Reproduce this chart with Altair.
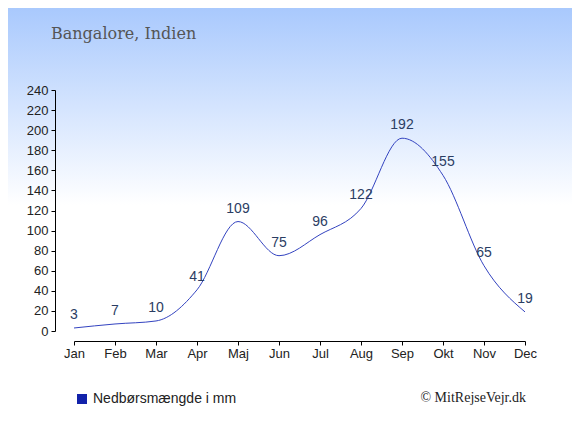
import altair as alt
import pandas as pd

months = ["Jan", "Feb", "Mar", "Apr", "Maj", "Jun", "Jul", "Aug", "Sep", "Okt", "Nov", "Dec"]
rain = [3, 7, 10, 41, 109, 75, 96, 122, 192, 155, 65, 19]
y_ticks = list(range(0, 241, 20))
title_text = "Bangalore, Indien"
legend_text = "Nedbørsmængde i mm"
credit_text = "© MitRejseVejr.dk"

df = pd.DataFrame({"i": list(range(len(months))), "m": months, "v": rain})
one = pd.DataFrame({"a": [0]})

W, H = 451, 241
PL, PT = 66, 82
TW, TH = 564, 419

month_expr = "[" + ",".join("'%s'" % m for m in months) + "][datum.value]"

xs = alt.X("i:Q", scale=alt.Scale(domain=[0, 11], nice=False, zero=False),
           axis=alt.Axis(values=list(range(12)), tickCount=len(months), labelExpr=month_expr, title=None,
                         offset=10, tickSize=4, labelPadding=2, grid=False, zindex=2,
                         labelFlush=False, labelOverlap=False, labelBound=False,
                         domainColor="#000", tickColor="#000", labelColor="#222",
                         labelFont="Liberation Sans", labelFontSize=13))
ys = alt.Y("v:Q", scale=alt.Scale(domain=[0, 240], nice=False),
           axis=alt.Axis(values=y_ticks, tickCount=len(y_ticks), title=None, offset=19, tickSize=4,
                         labelFlush=False, labelOverlap=False, labelBound=False,
                         labelPadding=3, grid=False, domainColor="#000", zindex=2,
                         tickColor="#000", labelColor="#222",
                         labelFont="Liberation Sans", labelFontSize=13))

bg = alt.Chart(one).mark_rect(
    clip=False,
    color=alt.Gradient(gradient="linear",
                       stops=[alt.GradientStop(color="#a9c9fd", offset=0),
                              alt.GradientStop(color="#ffffff", offset=0.47)],
                       x1=0, x2=0, y1=0, y2=1)
).encode(x=alt.value(-PL), x2=alt.value(TW - PL), y=alt.value(-PT), y2=alt.value(TH - PT))

line = alt.Chart(df).mark_line(interpolate="monotone", color="#3343c0", strokeWidth=1).encode(x=xs, y=ys)

labels = alt.Chart(df).mark_text(dy=-9, baseline="alphabetic", align="center",
                                 font="Liberation Sans", fontSize=14, color="#2b3d63").encode(
    x=xs, y=ys, text="v:Q")

title = alt.Chart(one).mark_text(text=title_text, align="left", baseline="alphabetic",
                                 font="DejaVu Serif", fontSize=16, color="#555555").encode(
    x=alt.value(51 - 74), y=alt.value(39 - 90))

leg_sq = alt.Chart(one).mark_rect(color="#1222aa").encode(
    x=alt.value(77 - 74), x2=alt.value(87 - 74), y=alt.value(394 - 90), y2=alt.value(404 - 90))

leg_txt = alt.Chart(one).mark_text(text=legend_text, align="left", baseline="alphabetic",
                                   font="Liberation Sans", fontSize=14, color="#222").encode(
    x=alt.value(93 - 74), y=alt.value(403 - 90))

credit = alt.Chart(one).mark_text(text=credit_text, align="right", baseline="alphabetic",
                                  font="Liberation Serif", fontSize=14, color="#222").encode(
    x=alt.value(526 - 74), y=alt.value(402 - 90))

chart = alt.layer(bg, line, labels, title, leg_sq, leg_txt, credit).properties(
    width=W, height=H,
    autosize=alt.AutoSizeParams(type="none"),
    padding={"left": PL, "top": PT, "right": TW - PL - W, "bottom": TH - PT - H},
    background="white",
).configure_view(stroke=None)

chart.save("out.html", embed_options={"renderer": "svg", "actions": False})
